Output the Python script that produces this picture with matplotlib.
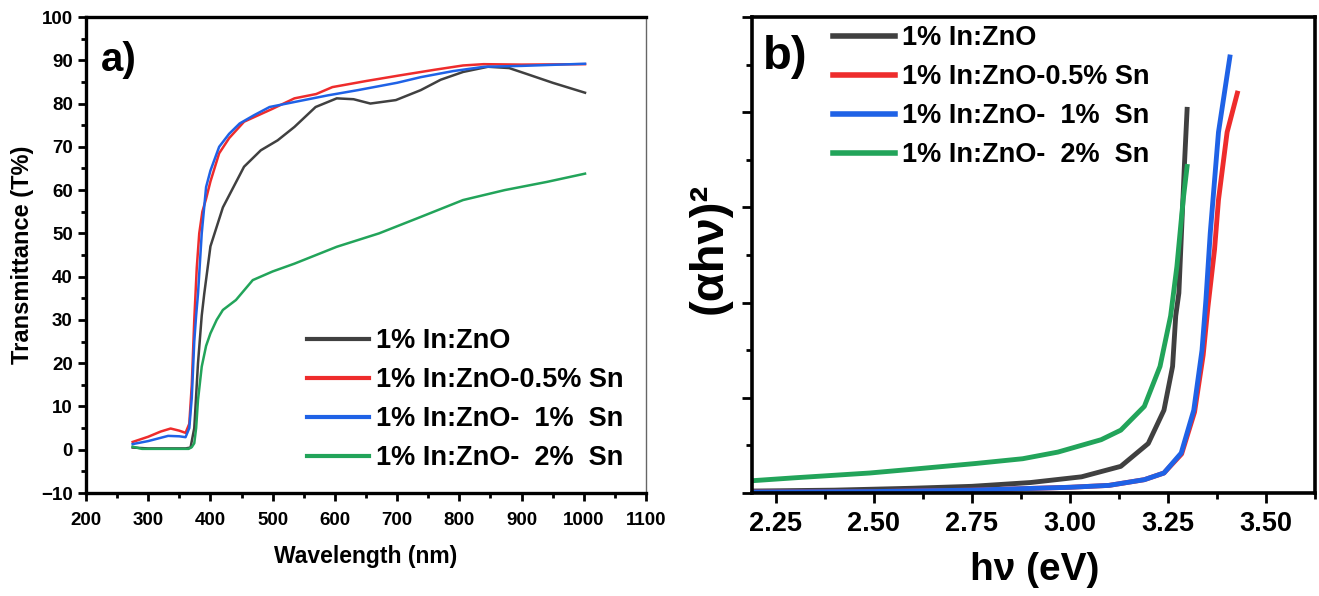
import numpy as np
import matplotlib
matplotlib.use('Agg')
import matplotlib.pyplot as plt
from matplotlib.ticker import MultipleLocator, NullFormatter

plt.rcParams['font.family'] = ['Liberation Sans', 'DejaVu Sans']
plt.rcParams['font.weight'] = 'bold'

labels = ['1% In:ZnO', '1% In:ZnO-0.5% Sn', '1% In:ZnO-  1%  Sn', '1% In:ZnO-  2%  Sn']
colors = ['#404040', '#ee2c2c', '#1f62e6', '#22a45a']

# panel a) transmittance
wl_black = [275, 300, 330, 360, 368, 374, 380, 386, 390, 400, 420, 454, 481, 508, 535,
            569, 603, 630, 657, 698, 738, 770, 806, 846, 880, 907, 950, 1002]
t_black = [0.5, 0.3, 0.3, 0.3, 0.5, 5, 20, 31, 36, 47, 56, 65.4, 69.2, 71.5, 74.6,
           79.2, 81.2, 81.0, 80.0, 80.8, 83.1, 85.5, 87.3, 88.5, 88.2, 86.9, 84.8, 82.5]

wl_red = [275, 300, 320, 336, 350, 360, 366, 370, 374, 378, 382, 387, 393, 400, 414, 430,
          454, 480, 500, 535, 570, 596, 650, 704, 760, 806, 839, 900, 1002]
t_red = [1.8, 3.0, 4.2, 4.9, 4.4, 3.9, 6, 15, 30, 42, 50, 55, 58, 62, 68.5, 72,
         75.8, 77.5, 78.8, 81.2, 82.2, 83.8, 85.2, 86.5, 87.8, 88.8, 89.1, 89.0, 89.1]

wl_blue = [275, 300, 332, 350, 360, 366, 370, 374, 377, 380, 386, 393, 400, 414, 430, 447,
           470, 495, 540, 589, 637, 700, 738, 790, 840, 900, 1002]
t_blue = [1.3, 2.0, 3.2, 3.1, 2.9, 5, 12, 25, 31, 36, 50, 60.7, 64.5, 70, 73, 75.4,
          77.3, 79.2, 80.5, 81.9, 83.1, 84.8, 86.1, 87.5, 88.5, 88.7, 89.2]

wl_green = [275, 290, 330, 365, 370, 374, 377, 380, 386, 393, 400, 410, 420, 441, 468, 500,
            535, 603, 671, 738, 806, 873, 941, 1002]
t_green = [0.7, 0.2, 0.2, 0.2, 0.6, 1.5, 5, 11.5, 19.2, 24, 26.9, 30, 32.3, 34.6, 39.2, 41.2,
           43, 46.9, 50, 53.8, 57.7, 60, 61.9, 63.8]

# panel b) tauc plot
hv_black = [2.18, 2.4, 2.6, 2.75, 2.9, 3.03, 3.13, 3.2, 3.24, 3.262, 3.27, 3.278, 3.292, 3.299]
a_black = [0.02, 0.03, 0.05, 0.07, 0.11, 0.17, 0.28, 0.52, 0.87, 1.33, 1.86, 2.1, 3.43, 4.03]

hv_red = [2.18, 2.5, 2.75, 3.0, 3.1, 3.19, 3.24, 3.285, 3.318, 3.34, 3.352, 3.369, 3.379, 3.401, 3.427]
a_red = [0.01, 0.015, 0.03, 0.06, 0.08, 0.14, 0.21, 0.41, 0.85, 1.45, 1.95, 2.56, 3.08, 3.79, 4.2]

hv_blue = [2.18, 2.5, 2.75, 3.0, 3.1, 3.19, 3.24, 3.284, 3.316, 3.337, 3.347, 3.358, 3.379, 3.408]
a_blue = [0.01, 0.015, 0.03, 0.06, 0.08, 0.14, 0.21, 0.42, 0.87, 1.5, 2.03, 2.73, 3.79, 4.58]

hv_green = [2.18, 2.3, 2.49, 2.6, 2.76, 2.88, 2.97, 3.08, 3.13, 3.19, 3.23, 3.257, 3.273, 3.289, 3.299]
a_green = [0.126, 0.16, 0.21, 0.25, 0.31, 0.36, 0.43, 0.56, 0.66, 0.91, 1.33, 1.86, 2.38, 3.08, 3.43]

fig = plt.figure(figsize=(13.19, 5.96), dpi=100)
W, H = 1319, 596

#----- a) -----
ax1 = fig.add_axes([86 / W, (H - 493) / H, (646 - 86) / W, 476 / H])
xs = [wl_black, wl_red, wl_blue, wl_green]
ys = [t_black, t_red, t_blue, t_green]
for x, y, c, lab in zip(xs, ys, colors, labels):
    ax1.plot(x, y, color=c, lw=1.8, label=lab)
ax1.set_xlim(200, 1100)
ax1.set_ylim(-10, 100)
ax1.xaxis.set_major_locator(MultipleLocator(100))
ax1.xaxis.set_minor_locator(MultipleLocator(50))
ax1.yaxis.set_major_locator(MultipleLocator(10))
ax1.yaxis.set_minor_locator(MultipleLocator(5))
ax1.tick_params(which='both', direction='out', width=2, labelsize=13.5, top=False, right=False)
ax1.tick_params(which='major', length=6)
ax1.tick_params(which='minor', length=3.5)
ax1.tick_params(axis='x', pad=8)
for s in ['left', 'bottom', 'top']:
    ax1.spines[s].set_linewidth(2.4)
ax1.spines['right'].set_linewidth(1)
ax1.spines['right'].set_color('#666666')
ax1.set_xlabel('Wavelength (nm)', fontsize=16.5, fontweight='bold')
ax1.set_ylabel('Transmittance (T%)', fontsize=17, fontweight='bold')
ax1.xaxis.set_label_coords((366 - 86) / 560, -(545 - 493) / 476)
ax1.yaxis.set_label_coords(-(86 - 34) / 560, 0.5)
ax1.text(101 / W, 1 - 60 / H, 'a)', transform=fig.transFigure, fontsize=29, fontweight='bold', va='center')
ax1.legend(loc='upper left', bbox_to_anchor=(307 / W, 1 - 328 / H), bbox_transform=fig.transFigure,
           frameon=False, fontsize=19.5, handlelength=2.3, handletextpad=0.25,
           labelspacing=0.48, borderpad=0, borderaxespad=0)
for line in ax1.get_legend().get_lines():
    line.set_linewidth(3)

#----- b) -----
ax2 = fig.add_axes([752 / W, (H - 493) / H, (1315 - 752) / W, 476 / H])
xs = [hv_black, hv_red, hv_blue, hv_green]
ys = [a_black, a_red, a_blue, a_green]
for x, y, c, lab in zip(xs, ys, colors, labels):
    ax2.plot(x, y, color=c, lw=3.5, label=lab)
ax2.set_xlim(2.19, 3.625)
ax2.set_ylim(0, 5)
ax2.xaxis.set_major_locator(MultipleLocator(0.25))
ax2.xaxis.set_minor_locator(MultipleLocator(0.125))
ax2.xaxis.set_major_formatter(plt.FormatStrFormatter('%.2f'))
ax2.yaxis.set_major_locator(MultipleLocator(1))
ax2.yaxis.set_minor_locator(MultipleLocator(0.5))
ax2.yaxis.set_major_formatter(NullFormatter())
ax2.tick_params(which='both', direction='out', width=2, labelsize=19.5, top=False, right=False)
ax2.tick_params(which='major', length=7)
ax2.tick_params(which='minor', length=4)
ax2.tick_params(axis='x', pad=6)
for s in ax2.spines.values():
    s.set_linewidth(2.6)
ax2.set_xlabel('h\u03bd (eV)', fontsize=28, fontweight='bold')
ax2.set_ylabel('(\u03b1h\u03bd)\u00b2', fontsize=34, fontweight='bold')
ax2.xaxis.set_label_coords((1035 - 752) / 563, -(552 - 493) / 476)
ax2.yaxis.set_label_coords(-(752 - 732) / 563, (493 - 248) / 476)
ax2.text(763 / W, 1 - 57 / H, 'b)', transform=fig.transFigure, fontsize=34, fontweight='bold', va='center')
ax2.legend(loc='upper left', bbox_to_anchor=(833 / W, 1 - 25 / H), bbox_transform=fig.transFigure,
           frameon=False, fontsize=19.5, handlelength=2.3, handletextpad=0.25,
           labelspacing=0.48, borderpad=0, borderaxespad=0)
for line in ax2.get_legend().get_lines():
    line.set_linewidth(4)

fig.savefig('out.png', dpi=100, facecolor='white')
